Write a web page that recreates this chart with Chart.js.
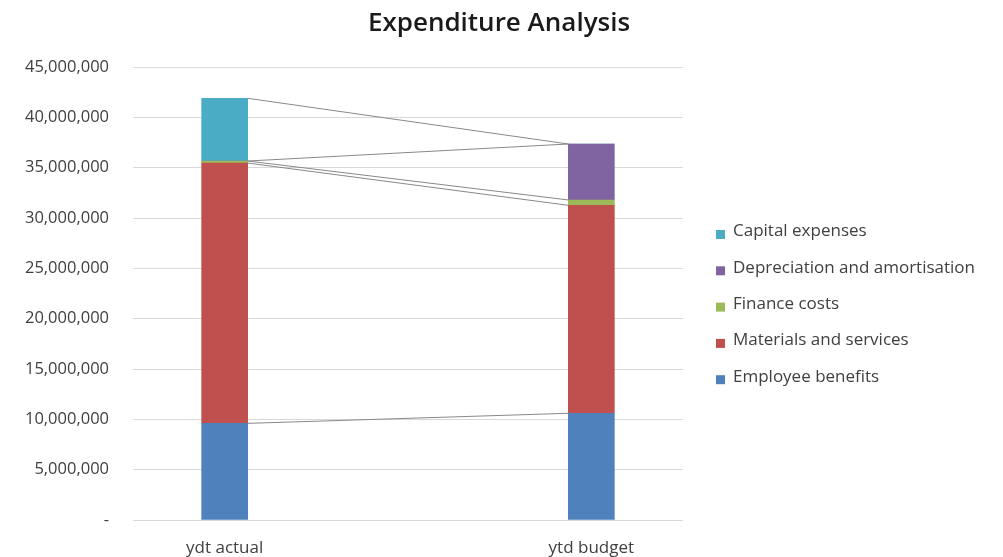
<!DOCTYPE html>
<html>
<head>
<meta charset="utf-8">
<script src="https://cdn.jsdelivr.net/npm/chart.js@4.4.1/dist/chart.umd.min.js"></script>
<style>
  html, body { margin: 0; padding: 0; background: #ffffff; }
  #wrap { width: 1003px; height: 557px; }
</style>
</head>
<body>
<div id="wrap"><canvas id="chart" width="1003" height="557"></canvas></div>
<script>
// Categories and stacked expenditure components
const categories = ['ydt actual', 'ytd budget'];
const employeeBenefits  = [9600000, 10600000];
const materialsServices = [25860000, 20660000];
const financeCosts      = [200000, 530000];
const depreciation      = [0, 5560000];
const capitalExpenses   = [6230000, 0];

const yTickValues = [0, 5000000, 10000000, 15000000, 20000000, 25000000, 30000000, 35000000, 40000000, 45000000];
const yTickLabels = ['-', '5,000,000', '10,000,000', '15,000,000', '20,000,000', '25,000,000', '30,000,000', '35,000,000', '40,000,000', '45,000,000'];

const chartTitle = 'Expenditure Analysis';
const FONT = '"Open Sans", Lato, sans-serif';

function toPoints(values) {
  return values.map((v, i) => ({ x: i, y: v }));
}

// Connector lines joining the top of each segment across adjacent bars
const seriesLines = {
  id: 'seriesLines',
  afterDatasetsDraw(chart) {
    const ctx = chart.ctx;
    ctx.save();
    ctx.strokeStyle = '#888888';
    ctx.lineWidth = 1;
    chart.data.datasets.forEach((ds, i) => {
      const bars = chart.getDatasetMeta(i).data;
      for (let k = 0; k < bars.length - 1; k++) {
        const a = bars[k], b = bars[k + 1];
        ctx.beginPath();
        ctx.moveTo(a.x + a.width / 2, a.y);
        ctx.lineTo(b.x - b.width / 2, b.y);
        ctx.stroke();
      }
    });
    ctx.restore();
  }
};

// Title centred on the full canvas, legend on the right listing the top segment first
const decorations = {
  id: 'decorations',
  afterDraw(chart) {
    const ctx = chart.ctx;
    ctx.save();
    ctx.fillStyle = '#1a1a1a';
    ctx.font = '600 26px ' + FONT;
    ctx.textAlign = 'center';
    ctx.textBaseline = 'middle';
    ctx.fillText(chartTitle, 499, 24);

    const ds = chart.data.datasets.slice().reverse();
    ctx.font = '17px ' + FONT;
    ctx.textAlign = 'left';
    ds.forEach((d, i) => {
      const y = 231.5 + i * 36.3;
      ctx.fillStyle = d.backgroundColor;
      ctx.fillRect(716, y - 1.5, 9, 9);
      ctx.fillStyle = '#404040';
      ctx.fillText(d.label, 733, y);
    });
    ctx.restore();
  }
};

new Chart(document.getElementById('chart'), {
  type: 'bar',
  data: {
    datasets: [
      { label: 'Employee benefits',             data: toPoints(employeeBenefits),  backgroundColor: '#4f81bd' },
      { label: 'Materials and services',        data: toPoints(materialsServices), backgroundColor: '#c0504d' },
      { label: 'Finance costs',                 data: toPoints(financeCosts),      backgroundColor: '#9bbb59' },
      { label: 'Depreciation and amortisation', data: toPoints(depreciation),      backgroundColor: '#8064a2' },
      { label: 'Capital expenses',              data: toPoints(capitalExpenses),   backgroundColor: '#4bacc6' }
    ]
  },
  options: {
    responsive: false,
    animation: false,
    barThickness: 46,
    layout: { padding: { left: 0, right: 320, top: 67, bottom: 0 } },
    plugins: {
      legend: { display: false },
      tooltip: { enabled: false },
      title: { display: false }
    },
    scales: {
      x: {
        type: 'linear',
        stacked: true,
        offset: false,
        min: -0.25,
        max: 1.25,
        grid: { display: false, drawTicks: false },
        border: { display: false },
        afterBuildTicks(scale) { scale.ticks = categories.map((c, i) => ({ value: i })); },
        afterFit(scale) { scale.height = 37; },
        ticks: {
          padding: 18,
          color: '#404040',
          font: { family: FONT, size: 17 },
          callback: (v) => categories[v]
        }
      },
      y: {
        stacked: true,
        min: 0,
        max: 45000000,
        grid: { color: '#d9d9d9', drawTicks: false },
        border: { display: false },
        afterBuildTicks(scale) { scale.ticks = yTickValues.map(v => ({ value: v })); },
        afterFit(scale) { scale.width = 133; },
        ticks: {
          padding: 24,
          color: '#404040',
          font: { family: FONT, size: 16.5 },
          callback: (v, i) => yTickLabels[i]
        }
      }
    }
  },
  plugins: [seriesLines, decorations]
});
</script>
</body>
</html>
